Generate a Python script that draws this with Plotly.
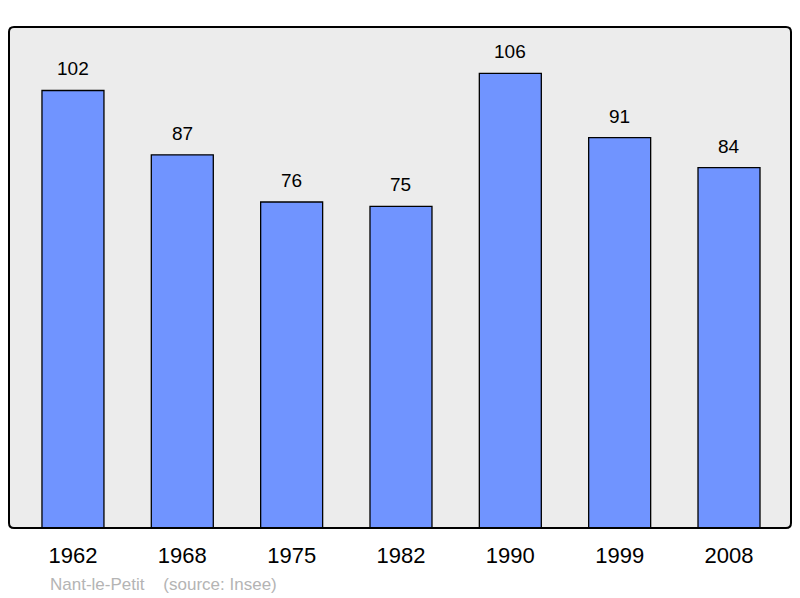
import plotly.graph_objects as go

years = ["1962", "1968", "1975", "1982", "1990", "1999", "2008"]
population = [102, 87, 76, 75, 106, 91, 84]
source_text = "Nant-le-Petit    (source: Insee)"

W, H = 800, 598
L, R, T, B = 9, 9, 27, 70
pos = list(range(len(years)))

fig = go.Figure()
fig.add_trace(go.Bar(
    x=pos, y=population, width=0.567,
    marker=dict(color="#7094ff", line=dict(color="black", width=1.3)),
    hoverinfo="skip",
))
for xi, v in zip(pos, population):
    fig.add_annotation(x=xi, y=v, text=str(v), showarrow=False,
                       yanchor="bottom", yshift=9,
                       font=dict(size=19, color="black"))

fig.add_annotation(xref="paper", yref="paper", x=(48 - L) / (W - L - R), y=-(584 - 528) / (H - T - B),
                   text=source_text.replace(" ", "&nbsp;"), showarrow=False,
                   xanchor="left", yanchor="middle",
                   font=dict(size=17, color="#b4b4b4"))

# rounded frame
pw, ph = W - L - R, H - T - B
rx, ry = 5 / pw, 5 / ph
path = (f"M {rx},0 L {1-rx},0 Q 1,0 1,{ry} L 1,{1-ry} Q 1,1 {1-rx},1 "
        f"L {rx},1 Q 0,1 0,{1-ry} L 0,{ry} Q 0,0 {rx},0 Z")
fig.add_shape(type="path", xref="paper", yref="paper", path=path,
              line=dict(color="black", width=2), layer="above")

fig.update_layout(
    width=W, height=H,
    margin=dict(l=L, r=R, t=T, b=B),
    paper_bgcolor="white", plot_bgcolor="#ececec",
    showlegend=False,
    font=dict(family="Liberation Sans, Arial, sans-serif"),
    xaxis=dict(range=[-0.585, 6.567], tickmode="array", tickvals=pos, ticktext=years,
               showgrid=False, zeroline=False, ticks="outside", ticklen=8,
               tickcolor="rgba(0,0,0,0)", tickfont=dict(size=22, color="black"),
               fixedrange=True),
    yaxis=dict(range=[0, 116.8], showgrid=False, zeroline=False, showticklabels=False,
               fixedrange=True),
)
fig.write_html("out.html", config={"displayModeBar": False},
               post_script="document.body.style.margin='0';")
